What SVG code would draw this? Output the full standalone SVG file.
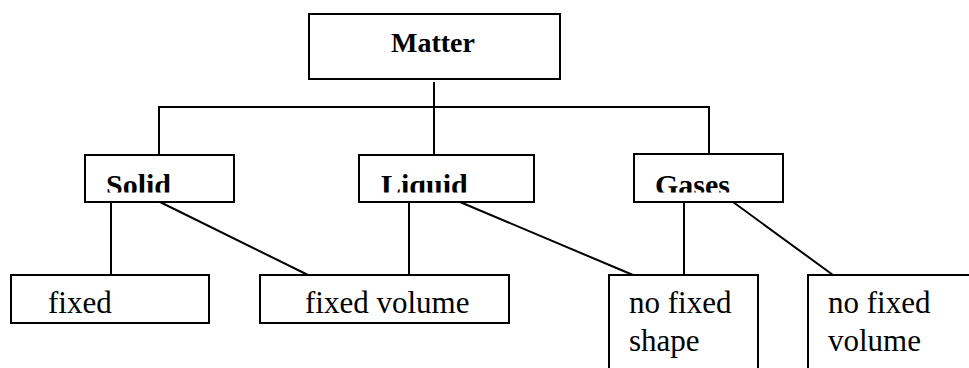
<svg xmlns="http://www.w3.org/2000/svg" width="969" height="368" viewBox="0 0 969 368">
<style>
.box{fill:#fff;stroke:#000;stroke-width:2}
.ln{stroke:#000;stroke-width:2;fill:none}
text{font-family:'Liberation Serif','DejaVu Serif',serif;fill:#000}
.b{font-weight:bold}
.r{font-size:31px}
</style>
<defs>
<clipPath id="c1"><rect x="0" y="150" width="969" height="42.5"/></clipPath>
</defs>
<rect width="969" height="368" fill="#fff"/>
<g id="connectors">
<line class="ln" x1="434" y1="82" x2="434" y2="155"/>
<polyline class="ln" points="159,155 159,107 709,107 709,154"/>
<line class="ln" x1="111" y1="202" x2="111" y2="275"/>
<line class="ln" x1="160" y1="202" x2="308" y2="275"/>
<line class="ln" x1="409" y1="202" x2="409" y2="275"/>
<line class="ln" x1="460" y1="202" x2="633" y2="275"/>
<line class="ln" x1="684" y1="202" x2="684" y2="275"/>
<line class="ln" x1="733" y1="202" x2="833" y2="275"/>
</g>
<g id="matter">
<rect class="box" x="309" y="14" width="251" height="65"/>
<text class="b" x="391" y="52" font-size="28" font-family="Liberation Serif, DejaVu Serif, serif">Matter</text>
</g>
<g id="solid">
<rect class="box" x="85" y="155" width="149" height="47"/>
<text class="b" x="106" y="195" font-size="30" font-family="Liberation Serif, DejaVu Serif, serif" clip-path="url(#c1)">Solid</text>
</g>
<g id="liquid">
<rect class="box" x="359" y="155" width="175" height="47"/>
<text class="b" x="381" y="195" font-size="30" font-family="Liberation Serif, DejaVu Serif, serif" clip-path="url(#c1)">Liquid</text>
</g>
<g id="gases">
<rect class="box" x="634" y="154" width="149" height="48"/>
<text class="b" x="655" y="195" font-size="30" font-family="Liberation Serif, DejaVu Serif, serif" clip-path="url(#c1)">Gases</text>
</g>
<g id="fixed">
<rect class="box" x="11" y="275" width="198" height="48"/>
<text class="r" x="48" y="313" font-family="Liberation Serif, DejaVu Serif, serif">fixed</text>
</g>
<g id="fixed-volume">
<rect class="box" x="260" y="275" width="249" height="48"/>
<text class="r" x="305" y="313" font-family="Liberation Serif, DejaVu Serif, serif">fixed volume</text>
</g>
<g id="no-fixed-shape">
<rect class="box" x="609" y="275" width="149" height="110"/>
<text class="r" x="629" y="313" font-family="Liberation Serif, DejaVu Serif, serif">no fixed</text>
<text class="r" x="629" y="351" font-family="Liberation Serif, DejaVu Serif, serif">shape</text>
</g>
<g id="no-fixed-volume">
<rect class="box" x="808" y="275" width="180" height="110"/>
<text class="r" x="828" y="313" font-family="Liberation Serif, DejaVu Serif, serif">no fixed</text>
<text class="r" x="828" y="351" font-family="Liberation Serif, DejaVu Serif, serif">volume</text>
</g>
</svg>
